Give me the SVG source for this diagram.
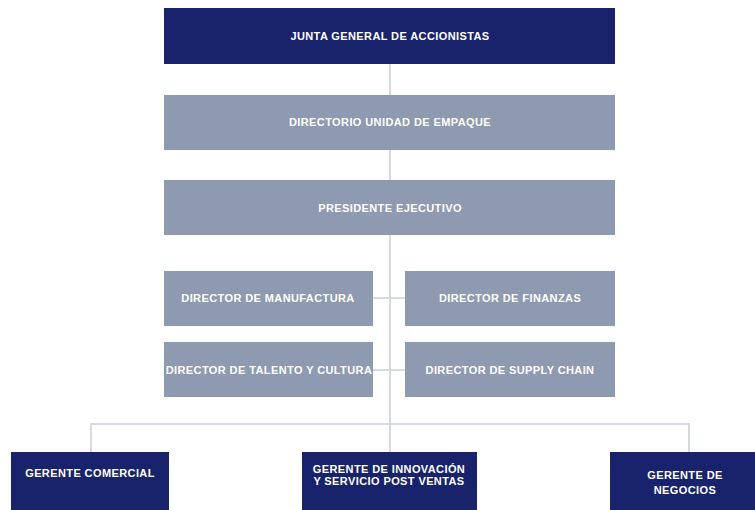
<svg xmlns="http://www.w3.org/2000/svg" width="755" height="510" viewBox="0 0 755 510">
<style>
.dark{fill:#18236b}
.gray{fill:#8d9ab0}
.t{font-family:"Liberation Sans",Arial,sans-serif;font-weight:bold;font-size:11px;fill:#ffffff;text-anchor:middle;letter-spacing:0.4px}
.c{stroke:#c9ced7;stroke-width:1.5;fill:none}
</style>
<rect width="755" height="510" fill="#ffffff"/>
<g id="connectors">
<path class="c" d="M390 64 V452"/>
<path class="c" d="M373 298 H405"/>
<path class="c" d="M373 370 H405"/>
<path class="c" d="M91 452 V424 H689 V452"/>
</g>
<g id="junta"><rect class="dark" x="164" y="8" width="451" height="56"/><text class="t" x="390" y="40">JUNTA GENERAL DE ACCIONISTAS</text></g>
<g id="directorio"><rect class="gray" x="164" y="95" width="451" height="55"/><text class="t" x="390" y="126">DIRECTORIO UNIDAD DE EMPAQUE</text></g>
<g id="presidente"><rect class="gray" x="164" y="180" width="451" height="55"/><text class="t" x="390" y="212">PRESIDENTE EJECUTIVO</text></g>
<g id="manufactura"><rect class="gray" x="164" y="271" width="209" height="55"/><text class="t" x="268" y="302">DIRECTOR DE MANUFACTURA</text></g>
<g id="finanzas"><rect class="gray" x="405" y="271" width="210" height="55"/><text class="t" x="510" y="302">DIRECTOR DE FINANZAS</text></g>
<g id="talento"><rect class="gray" x="164" y="342" width="209" height="55"/><text class="t" x="269" y="374">DIRECTOR DE TALENTO Y CULTURA</text></g>
<g id="supply"><rect class="gray" x="405" y="342" width="210" height="55"/><text class="t" x="510" y="374">DIRECTOR DE SUPPLY CHAIN</text></g>
<g id="comercial"><rect class="dark" x="11" y="452" width="158" height="58"/><text class="t" x="90" y="477">GERENTE COMERCIAL</text></g>
<g id="innovacion"><rect class="dark" x="302" y="452" width="175" height="58"/><text class="t" x="389" y="473">GERENTE DE INNOVACIÓN</text><text class="t" x="389" y="485">Y SERVICIO POST VENTAS</text></g>
<g id="negocios"><rect class="dark" x="610" y="452" width="145" height="58"/><text class="t" x="685" y="479">GERENTE DE</text><text class="t" x="685" y="494">NEGOCIOS</text></g>
</svg>
